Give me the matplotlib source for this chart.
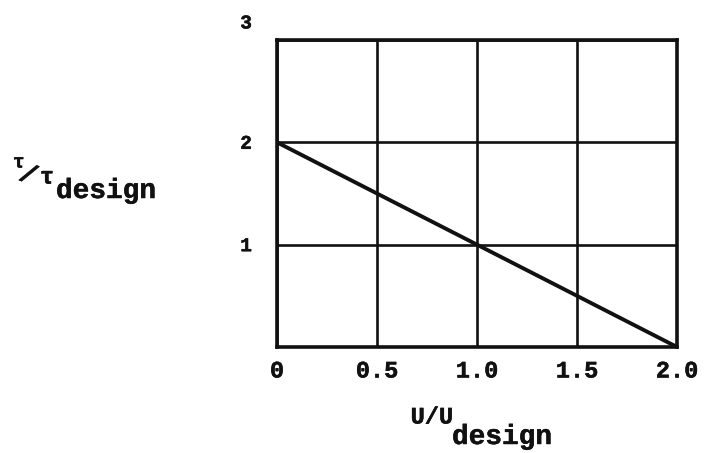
import matplotlib.pyplot as plt
import matplotlib.patheffects as pe
from matplotlib.transforms import ScaledTranslation

# Datos de la recta tau/tau_design contra U/U_design
u_ratio = [0.0, 2.0]
tau_ratio = [2.0, 0.0]

x_ticks = [0.0, 0.5, 1.0, 1.5, 2.0]
x_tick_labels = ["0", "0.5", "1.0", "1.5", "2.0"]
y_ticks = [1, 2, 3]
y_tick_labels = ["1", "2", "3"]

ink = '#111111'
grueso = [pe.withStroke(linewidth=0.35, foreground=ink)]

plt.rcParams['font.family'] = ['Liberation Mono', 'DejaVu Sans Mono']
plt.rcParams['font.weight'] = 'bold'

fig = plt.figure(figsize=(7.05, 4.53), dpi=100)
ax = fig.add_axes([277 / 705, 1 - 347 / 453, 400 / 705, 307 / 453])

ax.plot(u_ratio, tau_ratio, color=ink, lw=2.8, solid_capstyle='round')

ax.set_xlim(0, 2)
ax.set_ylim(0, 3)
ax.set_xticks(x_ticks)
ax.set_xticklabels(x_tick_labels, fontsize=17, fontweight='bold')
ax.set_yticks(y_ticks)
ax.set_yticklabels(y_tick_labels, fontsize=14, fontweight='bold')
ax.tick_params(axis='x', length=0, pad=9, colors=ink)
ax.tick_params(axis='y', length=0, pad=18, colors=ink)
for lab in ax.get_xticklabels() + ax.get_yticklabels():
    lab.set_path_effects(grueso)

# el "3" va un poco por encima del borde
lab3 = ax.get_yticklabels()[-1]
lab3.set_transform(lab3.get_transform() + ScaledTranslation(0, 13 / 72, fig.dpi_scale_trans))

ax.grid(True, color=ink, lw=1.9)
for s in ax.spines.values():
    s.set_linewidth(2.6)
    s.set_color(ink)


def texto(x, y, s, size, ha='left', rot=0):
    fig.text(x / 705, 1 - y / 453, s, ha=ha, va='center', rotation=rot,
             fontsize=size, fontweight='bold', color=ink, path_effects=grueso)


# etiqueta del eje x: U/U con subindice "design"
texto(453, 417, "U/U", 17, ha='right')
texto(452, 437, "design", 20)

# etiqueta del eje y: tau/tau_design
texto(13, 163, "τ", 14)
texto(28, 176, "/", 20, ha='center', rot=-22)
texto(40, 177, "τ", 17)
texto(56, 191, "design", 20)

fig.savefig("out.png", dpi=100)
